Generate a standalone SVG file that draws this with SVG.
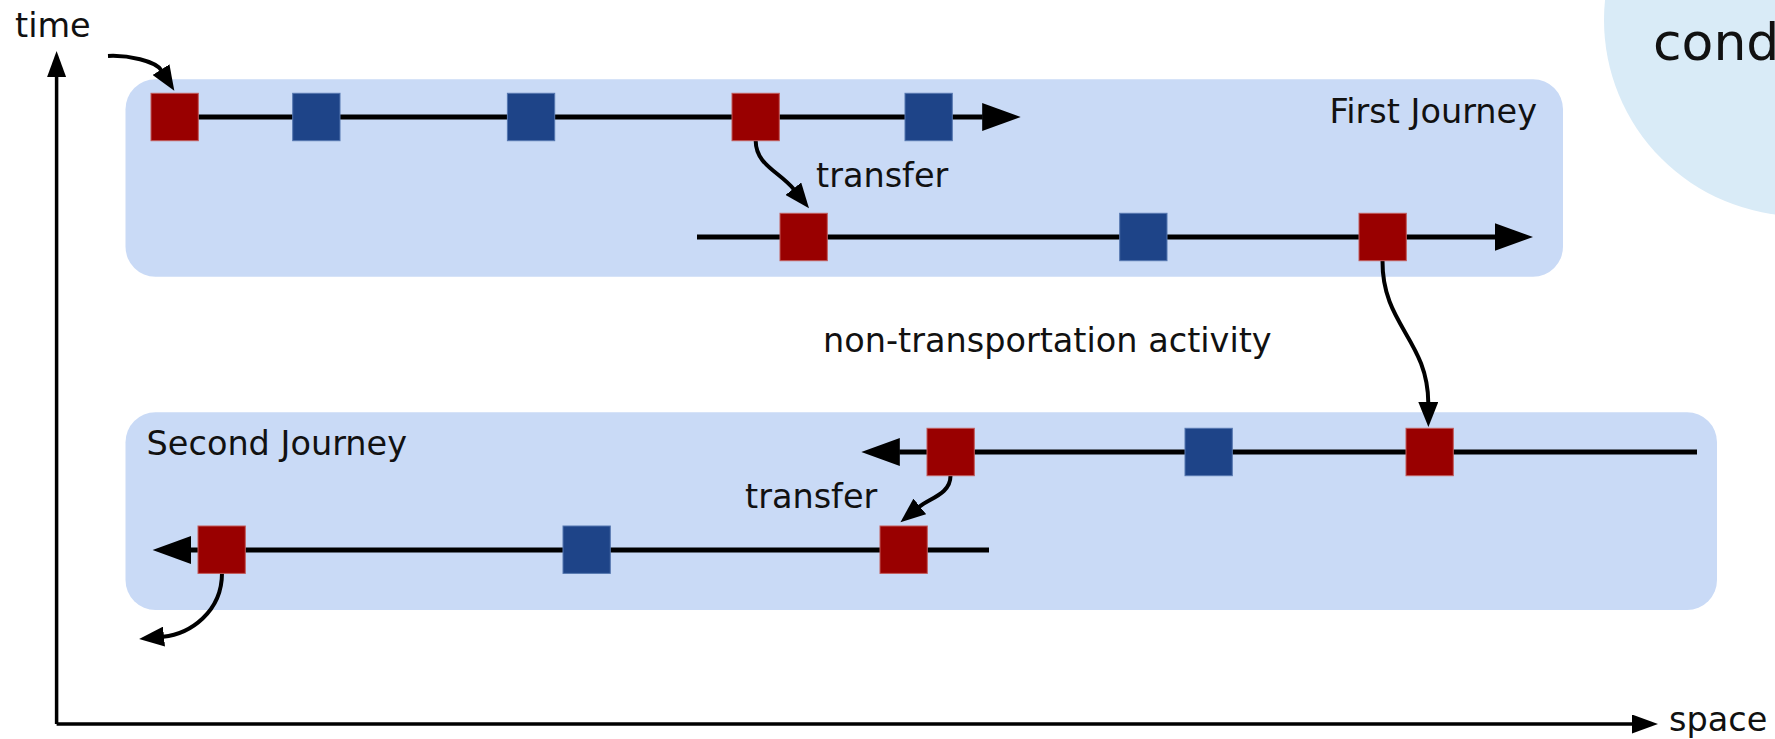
<svg xmlns="http://www.w3.org/2000/svg" width="1775" height="739" viewBox="0 0 1775 739">
  <style>
    text { font-family: "DejaVu Sans", "Liberation Sans", sans-serif; font-size: 33.5px; fill: #111; }
    .journey { fill: #c9daf6; }
    .stop-red { fill: #990000; stroke: #c25a5a; stroke-width: 1; }
    .stop-blue { fill: #1e4488; stroke: #5577b0; stroke-width: 1; }
    .route { fill: none; stroke: #000; stroke-width: 5; }
    .link { fill: none; stroke: #000; stroke-width: 4; }
    .axis { fill: none; stroke: #000; stroke-width: 3.5; }
  </style>
  <defs>
    <marker id="route-head" markerUnits="userSpaceOnUse" markerWidth="40" markerHeight="28" refX="0.5" refY="14" orient="auto">
      <path d="M0,0 L38.5,14 L0,28 Z" fill="#000"/>
    </marker>
    <marker id="link-head" markerUnits="userSpaceOnUse" markerWidth="26" markerHeight="20" refX="1" refY="10" orient="auto">
      <path d="M0,0 L25,10 L0,20 Z" fill="#000"/>
    </marker>
    <marker id="axis-head" markerUnits="userSpaceOnUse" markerWidth="27" markerHeight="19" refX="0.5" refY="9.5" orient="auto">
      <path d="M0,0 L26,9.5 L0,19 Z" fill="#000"/>
    </marker>
  </defs>

  <!-- background circle, top right -->
  <g id="context">
    <circle cx="1800" cy="20" r="196" fill="#d9ebf7"/>
    <text x="1653" y="60" style="font-size:52px">cond</text>
  </g>

  <!-- axes -->
  <g id="axes">
    <path class="axis" d="M56.6,724 L56.6,76.5" marker-end="url(#axis-head)"/>
    <path class="axis" d="M56.6,724 L1632.5,724" marker-end="url(#axis-head)"/>
    <text x="15" y="37">time</text>
    <text x="1669" y="731">space</text>
  </g>

  <!-- journey panels -->
  <g id="first-journey">
    <rect class="journey" x="125.5" y="79.3" width="1437.5" height="197.4" rx="30"/>
    <text x="1537" y="123" text-anchor="end">First Journey</text>
  </g>
  <g id="second-journey">
    <rect class="journey" x="125.5" y="412.3" width="1591.5" height="197.7" rx="30"/>
    <text x="146.6" y="455">Second Journey</text>
  </g>

  <!-- routes and transfers -->
  <g id="connectors">
    <path class="route" d="M151,117 L982.7,117" marker-end="url(#route-head)"/>
    <path class="route" d="M697,237 L1495,237" marker-end="url(#route-head)"/>
    <path class="route" d="M1697,452 L899.3,452" marker-end="url(#route-head)"/>
    <path class="route" d="M989,550 L190.6,550" marker-end="url(#route-head)"/>

    <path class="link" d="M108,56 C128,55 155.5,61 161.5,70.5" marker-end="url(#link-head)"/>
    <path class="link" d="M755.7,140.7 C755.7,165 780,172 794,189.5" marker-end="url(#link-head)"/>
    <path class="link" d="M1382.5,260.7 C1382,325 1428,340 1428.3,403" marker-end="url(#link-head)"/>
    <path class="link" d="M950.5,475.7 C950.5,494 930,498 919,507" marker-end="url(#link-head)"/>
    <path class="link" d="M222,573 C222,612 190,634 163,636.7" marker-end="url(#link-head)"/>
  </g>

  <!-- stops -->
  <g id="stop-1a"><rect class="stop-red" x="151" y="93.3" width="47.3" height="47.4"/></g>
  <g id="stop-1b"><rect class="stop-blue" x="292.7" y="93.3" width="47.3" height="47.4"/></g>
  <g id="stop-1c"><rect class="stop-blue" x="507.4" y="93.3" width="47.3" height="47.4"/></g>
  <g id="stop-1d"><rect class="stop-red" x="732" y="93.3" width="47.3" height="47.4"/></g>
  <g id="stop-1e"><rect class="stop-blue" x="905" y="93.3" width="47.3" height="47.4"/></g>

  <g id="stop-2a"><rect class="stop-red" x="780" y="213.3" width="47.3" height="47.4"/></g>
  <g id="stop-2b"><rect class="stop-blue" x="1119.7" y="213.3" width="47.3" height="47.4"/></g>
  <g id="stop-2c"><rect class="stop-red" x="1359" y="213.3" width="47.3" height="47.4"/></g>

  <g id="stop-3a"><rect class="stop-red" x="927" y="428.3" width="47.3" height="47.4"/></g>
  <g id="stop-3b"><rect class="stop-blue" x="1185" y="428.3" width="47.3" height="47.4"/></g>
  <g id="stop-3c"><rect class="stop-red" x="1406" y="428.3" width="47.3" height="47.4"/></g>

  <g id="stop-4a"><rect class="stop-red" x="198" y="526" width="47.3" height="47.4"/></g>
  <g id="stop-4b"><rect class="stop-blue" x="563" y="526" width="47.3" height="47.4"/></g>
  <g id="stop-4c"><rect class="stop-red" x="880" y="526" width="47.3" height="47.4"/></g>

  <!-- connector labels -->
  <g id="labels">
    <text x="816" y="187">transfer</text>
    <text x="823" y="352">non-transportation activity</text>
    <text x="745" y="508">transfer</text>
  </g>
</svg>
